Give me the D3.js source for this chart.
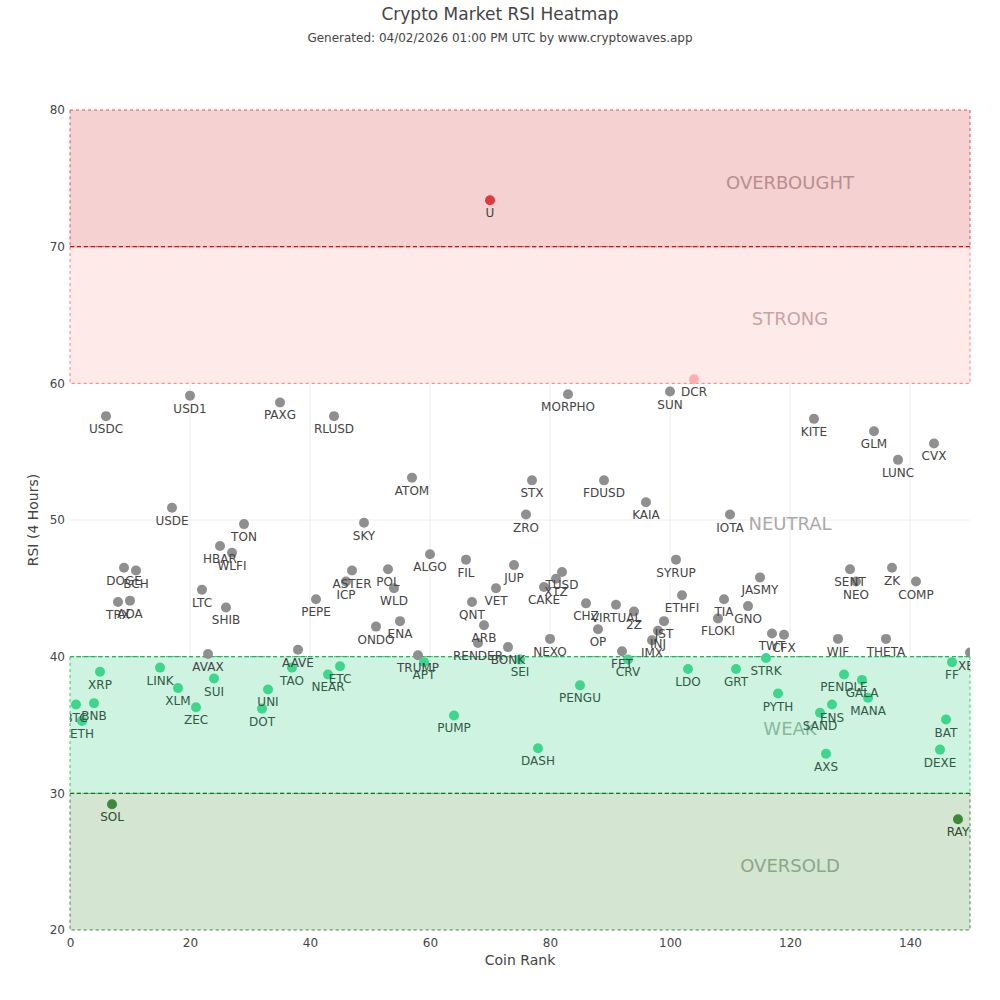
<!DOCTYPE html>
<html>
<head>
<meta charset="utf-8">
<script src="https://cdn.jsdelivr.net/npm/d3@7"></script>
<style>
  body { margin: 0; background: #fff; }
  text { font-family: Verdana, "DejaVu Sans", sans-serif; }
</style>
</head>
<body>
<div id="chart"></div>
<script>
// coins, ranks and 4h RSI
var coins = ["BTC","ETH","BNB","XRP","USDC","SOL","TRX","DOGE","ADA","BCH",
  "LINK","USDE","XLM","USD1","ZEC","LTC","AVAX","SUI","HBAR","SHIB",
  "WLFI","TON","DOT","UNI","PAXG","TAO","AAVE","PEPE","NEAR","RLUSD",
  "ETC","ICP","ASTER","SKY","ONDO","POL","WLD","ENA","ATOM","TRUMP",
  "APT","ALGO","PUMP","FIL","QNT","RENDER","ARB","U","VET","BONK",
  "JUP","SEI","ZRO","STX","DASH","CAKE","NEXO","XTZ","TUSD","MORPHO",
  "PENGU","CHZ","OP","FDUSD","VIRTUAL","FET","CRV","2Z","KAIA","IMX",
  "INJ","JST","SUN","SYRUP","ETHFI","LDO","DCR","FLOKI","TIA","IOTA",
  "GRT","GNO","JASMY","STRK","TWT","PYTH","CFX","KITE","SAND","AXS",
  "ENS","WIF","PENDLE","SENT","NEO","GALA","MANA","GLM","THETA","ZK",
  "LUNC","COMP","CVX","DEXE","BAT","FF","RAY","XEC"];
var ranks = [1,2,4,5,6,7,8,9,10,11,
  15,17,18,20,21,22,23,24,25,26,
  27,29,32,33,35,37,38,41,43,44,
  45,46,47,49,51,53,54,55,57,58,
  59,60,64,66,67,68,69,70,71,73,
  74,75,76,77,78,79,80,81,82,83,
  85,86,88,89,91,92,93,94,96,97,
  98,99,100,101,102,103,104,108,109,110,
  111,113,115,116,117,118,119,124,125,126,
  127,128,129,130,131,132,133,134,136,137,
  138,141,144,145,146,147,148,150];
var rsi = [36.5,35.3,36.6,38.9,57.6,29.2,44.0,46.5,44.1,46.3,
  39.2,50.9,37.7,59.1,36.3,44.9,40.2,38.4,48.1,43.6,
  47.6,49.7,36.2,37.6,58.6,39.2,40.5,44.2,38.7,57.6,
  39.3,45.5,46.3,49.8,42.2,46.4,45.0,42.6,53.1,40.1,
  39.6,47.5,35.7,47.1,44.0,41.0,42.3,73.4,45.0,40.7,
  46.7,39.8,50.4,52.9,33.3,45.1,41.3,45.7,46.2,59.2,
  37.9,43.9,42.0,52.9,43.8,40.4,39.8,43.3,51.3,41.2,
  41.9,42.6,59.4,47.1,44.5,39.1,60.3,42.8,44.2,50.4,
  39.1,43.7,45.8,39.9,41.7,37.3,41.6,57.4,35.9,32.9,
  36.5,41.3,38.7,46.4,45.5,38.3,37.0,56.5,41.3,46.5,
  54.4,45.5,55.6,33.2,35.4,39.6,28.1,40.3];

var zoneNames = ["OVERSOLD","WEAK","NEUTRAL","STRONG","OVERBOUGHT"];
var zoneLow = [20,30,40,60,70];
var zoneHigh = [30,40,60,70,80];
var xTicks = [0,20,40,60,80,100,120,140];
var yTicks = [20,30,40,50,60,70,80];

var width = 1000, height = 1000;
var margin = { top: 110, right: 30, bottom: 70, left: 70 };

var svg = d3.select("#chart").append("svg")
  .attr("width", width).attr("height", height);

var x = d3.scaleLinear().domain([0, 150]).range([margin.left, width - margin.right]);
var y = d3.scaleLinear().domain([20, 80]).range([height - margin.bottom, margin.top]);

var zoneFill = ["#cfe2cc","#c9f3de","none","#ffe8e8","#f4cccc"];
var zoneLine = ["#3c8a3c","#2ecc71","none","#f08080","#e05050"];
var zoneText = ["#8aa889","#86b89c","#aaaaaa","#c9a3a3","#b88e8e"];

svg.append("defs").append("clipPath").attr("id", "plot-clip")
  .append("rect")
  .attr("x", x(0)).attr("y", y(80))
  .attr("width", x(150) - x(0)).attr("height", y(20) - y(80));

// grid
svg.append("g").selectAll("line").data(xTicks.slice(1))
  .join("line")
  .attr("x1", d => x(d)).attr("x2", d => x(d))
  .attr("y1", y(80)).attr("y2", y(20))
  .attr("stroke", "#eee");
svg.append("g").selectAll("line").data(yTicks.slice(1, -1))
  .join("line")
  .attr("x1", x(0)).attr("x2", x(150))
  .attr("y1", d => y(d)).attr("y2", d => y(d))
  .attr("stroke", "#eee");

// zone bands
var zones = svg.append("g");
zoneNames.forEach(function (name, i) {
  if (zoneFill[i] === "none") return;
  zones.append("rect")
    .attr("x", x(0)).attr("y", y(zoneHigh[i]))
    .attr("width", x(150) - x(0)).attr("height", y(zoneLow[i]) - y(zoneHigh[i]))
    .attr("fill", zoneFill[i]).attr("fill-opacity", 0.9)
    .attr("stroke", zoneLine[i]).attr("stroke-width", 1)
    .attr("stroke-dasharray", "3,3");
});

// threshold lines
var lines = [
  { v: 70, c: "#d01010" },
  { v: 30, c: "#1e6e1e" },
  { v: 40, c: "#22b35e" }
];
svg.append("g").selectAll("line").data(lines)
  .join("line")
  .attr("x1", x(0)).attr("x2", x(150))
  .attr("y1", d => y(d.v)).attr("y2", d => y(d.v))
  .attr("stroke", d => d.c).attr("stroke-width", 1.2)
  .attr("stroke-dasharray", "4,3");

// zone labels
svg.append("g").selectAll("text").data(zoneNames)
  .join("text")
  .attr("x", x(120))
  .attr("y", (d, i) => y((zoneLow[i] + zoneHigh[i]) / 2) + 4)
  .attr("dy", "0.35em")
  .attr("text-anchor", "middle")
  .attr("font-size", 18)
  .attr("fill", (d, i) => zoneText[i])
  .text(d => d);

function pointColor(v) {
  if (v >= 70) return "#e0393e";
  if (v >= 60) return "#ffb0b0";
  if (v >= 40) return "#8f8f8f";
  if (v >= 30) return "#3dd68c";
  return "#3a8a3a";
}
function labelColor(v) {
  if (v >= 40) return "#444";
  if (v >= 30) return "#2f5a44";
  return "#2f4a30";
}

var data = coins.map((c, i) => ({ coin: c, rank: ranks[i], rsi: rsi[i] }));

var plot = svg.append("g").attr("clip-path", "url(#plot-clip)");
plot.selectAll("circle").data(data)
  .join("circle")
  .attr("cx", d => x(d.rank))
  .attr("cy", d => y(d.rsi))
  .attr("r", 5)
  .attr("fill", d => pointColor(d.rsi));

plot.selectAll("text").data(data)
  .join("text")
  .attr("x", d => x(d.rank))
  .attr("y", d => y(d.rsi) + 17)
  .attr("text-anchor", "middle")
  .attr("font-size", 12)
  .attr("fill", d => labelColor(d.rsi))
  .text(d => d.coin);

// axes
var xAxis = svg.append("g")
  .attr("transform", `translate(0,${y(20)})`)
  .call(d3.axisBottom(x).tickValues(xTicks).tickSize(0).tickPadding(8));
var yAxis = svg.append("g")
  .attr("transform", `translate(${x(0)},0)`)
  .call(d3.axisLeft(y).tickValues(yTicks).tickSize(0).tickPadding(5));
[xAxis, yAxis].forEach(function (g) {
  g.select(".domain").remove();
  g.selectAll("text").attr("font-size", 12).attr("fill", "#444")
    .attr("font-family", "Verdana, 'DejaVu Sans', sans-serif");
});

svg.append("text")
  .attr("x", x(75)).attr("y", 965)
  .attr("text-anchor", "middle").attr("font-size", 14).attr("fill", "#444")
  .text("Coin Rank");
svg.append("text")
  .attr("transform", `translate(38,${y(50)}) rotate(-90)`)
  .attr("text-anchor", "middle").attr("font-size", 14).attr("fill", "#444")
  .text("RSI (4 Hours)");

// titles
svg.append("text")
  .attr("x", width / 2).attr("y", 20)
  .attr("text-anchor", "middle").attr("font-size", 17).attr("fill", "#444")
  .text("Crypto Market RSI Heatmap");
svg.append("text")
  .attr("x", width / 2).attr("y", 42)
  .attr("text-anchor", "middle").attr("font-size", 12).attr("fill", "#444")
  .text("Generated: 04/02/2026 01:00 PM UTC by www.cryptowaves.app");
</script>
</body>
</html>
